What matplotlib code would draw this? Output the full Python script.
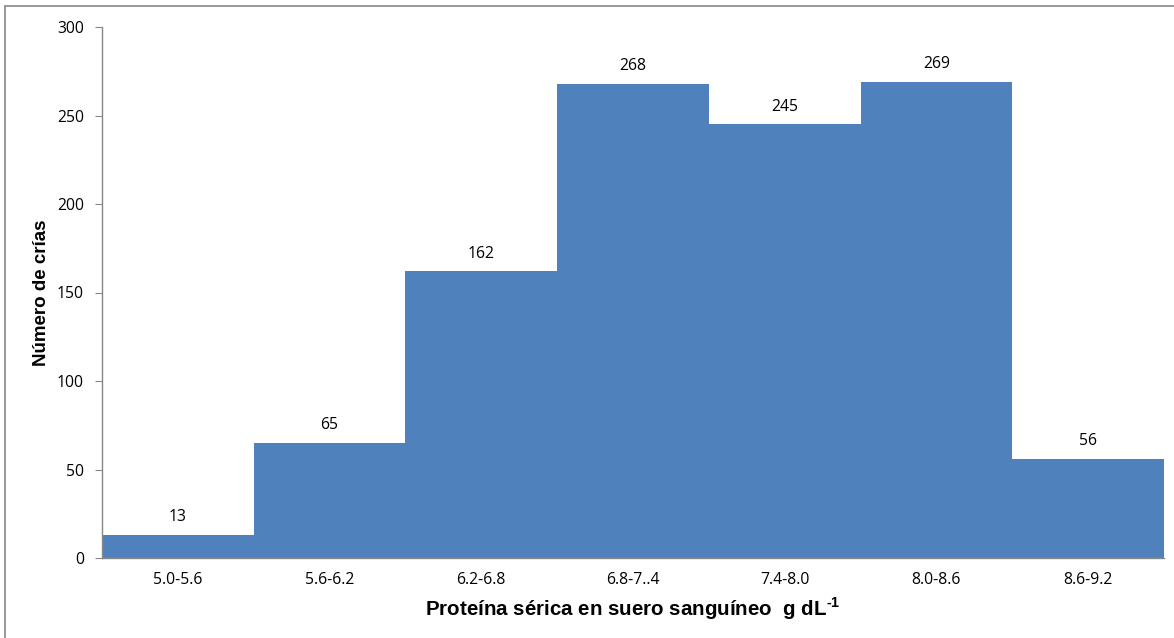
import matplotlib
matplotlib.use("Agg")
import matplotlib.pyplot as plt
from matplotlib.patches import Rectangle

plt.rcParams["mathtext.fontset"] = "custom"
plt.rcParams["mathtext.rm"] = "Liberation Sans:bold"
plt.rcParams["mathtext.bf"] = "Liberation Sans:bold"

categories = ["5.0-5.6", "5.6-6.2", "6.2-6.8", "6.8-7..4", "7.4-8.0", "8.0-8.6", "8.6-9.2"]
counts = [13, 65, 162, 268, 245, 269, 56]
yticks = [0, 50, 100, 150, 200, 250, 300]

fig = plt.figure(figsize=(11.74, 6.38), dpi=100)
ax = fig.add_axes([102/1174, 1-558/638, (1164-102)/1174, (558-27)/638])

x = list(range(len(categories)))
ax.bar(x, counts, width=1.0, color="#4F81BD", edgecolor="none")
ax.set_xlim(-0.5, len(categories) - 0.5)
ax.set_ylim(0, 300)
ax.set_yticks(yticks)
ax.set_xticks(x)
ax.set_xticklabels(categories, fontsize=11.3, family="Open Sans")
for lbl in ax.get_yticklabels():
    lbl.set_fontsize(11.3)
    lbl.set_family("Open Sans")

for xi, v in zip(x, counts):
    ax.annotate(str(v), (xi, v), xytext=(0, 7), textcoords="offset points",
                ha="center", va="bottom", fontsize=11.3, family="Open Sans")

for s in ["top", "right"]:
    ax.spines[s].set_visible(False)
for s in ["left", "bottom"]:
    ax.spines[s].set_color("#888888")
    ax.spines[s].set_linewidth(1.0)
ax.tick_params(axis="x", length=0, pad=10)
ax.tick_params(axis="y", length=5, color="#888888", pad=8)

ax.set_ylabel("Número de crías", fontsize=13.5, fontweight="bold", family="Liberation Sans")
ax.yaxis.set_label_coords((42 - 102) / (1164 - 102), 0.5)
ax.set_xlabel("Proteína sérica en suero sanguíneo  g dL$^{\\text{-1}}$", fontsize=14.8,
              fontweight="bold", family="Liberation Sans")
ax.xaxis.set_label_coords((633 - 102) / (1164 - 102), -(609 - 558) / (558 - 27))
ax.xaxis.label.set_va("center")
ax.yaxis.label.set_va("center")

fig.patches.append(Rectangle((5/1174, -0.05), 1.2, 1 - 6/638 + 0.05, transform=fig.transFigure,
                             fill=False, edgecolor="#868686", linewidth=1.2))

fig.savefig("out.png", dpi=100)
